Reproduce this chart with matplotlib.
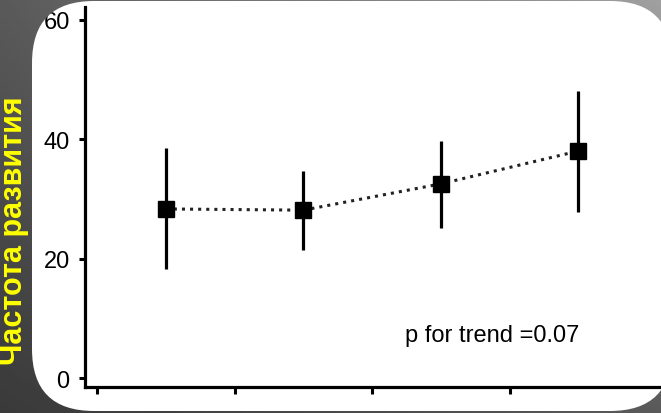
import numpy as np
import matplotlib
matplotlib.use("Agg")
import matplotlib.pyplot as plt
from matplotlib.patches import FancyBboxPatch, PathPatch
from matplotlib.path import Path

# data
groups = [1, 2, 3, 4]
freq = [28.3, 28.1, 32.5, 38.0]
err_lo = [10.0, 6.6, 7.4, 10.2]
err_hi = [10.2, 6.6, 7.2, 10.1]
yticks = [0, 20, 40, 60]
xticks = [0.5, 1.5, 2.5, 3.5]
ylabel = "Частота развития"
note = "p for trend =0.07"

W, H = 661, 414
fig = plt.figure(figsize=(W / 100, H / 100), dpi=100)
fig.patch.set_facecolor("white")
plt.rcParams['font.family'] = ['Liberation Sans', 'DejaVu Sans']

# chart
ax = fig.add_axes([85 / W, (H - 388) / H, (661 - 85) / W, (388 - 8) / H], zorder=1)
ax.errorbar(groups, freq, yerr=[err_lo, err_hi], fmt="s", color="black",
            ms=11.5, elinewidth=2.3, capsize=0, zorder=3)
ax.plot(groups, freq, color="#222222", ls=":", lw=2.2, zorder=2)

ax.set_xlim(0.413, 4.6)
ax.set_ylim(-1.5, 62.1)
ax.set_yticks(yticks)
ax.set_xticks(xticks)
ax.set_xticklabels([])
ax.tick_params(axis="y", length=4, width=2.2, pad=7, labelsize=17)
ax.tick_params(axis="x", length=5, width=2.2)
for s in ["top", "right"]:
    ax.spines[s].set_visible(False)
for s in ["left", "bottom"]:
    ax.spines[s].set_linewidth(2.3)

ax.text(405, H - 336, note, transform=None, fontsize=17, va="center", ha="left")

# grey gradient frame on top, with a rounded hole for the white panel
ov = fig.add_axes([0, 0, 1, 1], zorder=2)
ov.set_xlim(0, W)
ov.set_ylim(0, H)
ov.axis("off")
ov.patch.set_alpha(0)
gx, gy = np.meshgrid(np.linspace(0, 1, 200), np.linspace(1, 0, 200))
g = (58 + 32 * gx + 32 * gy + 38 * gx * gy) / 255.0
img = ov.imshow(g, cmap="gray", vmin=0, vmax=1, extent=[0, W, 0, H], aspect="auto")

r = 62
panel = FancyBboxPatch((32 + r, 2 + r), 672 - 32 - 2 * r, 412 - 2 - 2 * r,
                       boxstyle="round,pad=%d" % r)
hole = panel.get_path().to_polygons()[0]
area = 0.5 * np.sum(hole[:-1, 0] * hole[1:, 1] - hole[1:, 0] * hole[:-1, 1])
outer = np.array([[-10, -10], [W + 10, -10], [W + 10, H + 10], [-10, H + 10], [-10, -10]])
if area > 0:
    hole = hole[::-1]
frame = Path.make_compound_path(Path(outer, closed=True), Path(hole, closed=True))
clip = PathPatch(frame, transform=ov.transData, fc="none", ec="none")
img.set_clip_path(clip)

fig.text(14 / W, 1 - 231 / H, ylabel, rotation=90, color="#ffff00",
         fontsize=22, fontweight="bold", ha="center", va="center", zorder=5)

fig.savefig("out.png", dpi=100)
